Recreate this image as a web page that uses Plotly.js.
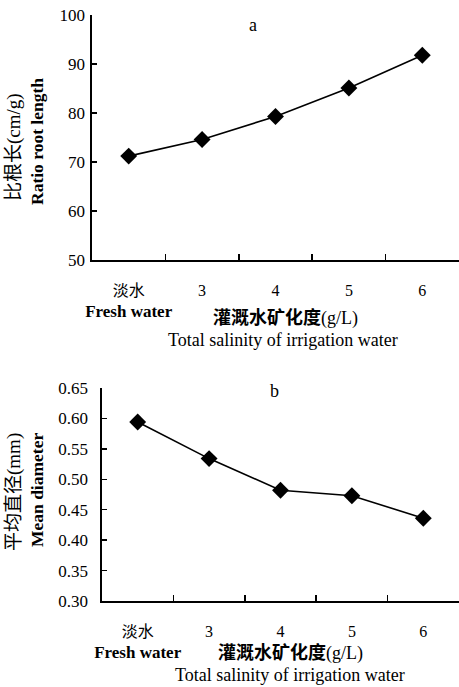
<!DOCTYPE html>
<html>
<head>
<meta charset="utf-8">
<script src="https://cdn.plot.ly/plotly-3.0.1.min.js"></script>
<style>html,body{margin:0;padding:0;background:#fff;}#chart{width:459px;height:687px;}</style>
</head>
<body>
<div id="chart"></div>
<script>
const categories = ['淡水', '3', '4', '5', '6'];
const tickLabels = ['淡水<br><b><span style="font-size:17px">Fresh water</span></b>', '3', '4', '5', '6'];
const ratioRootLength = [71.2, 74.6, 79.3, 85.1, 91.8];
const meanDiameter = [0.594, 0.534, 0.482, 0.473, 0.436];

const FONT = 'Liberation Serif, "Noto Sans CJK SC", serif';

const lineStyle = {color: '#000', width: 1.6};
const markerStyle = {symbol: 'diamond', size: 13, color: '#000'};

const traces = [
  {x: categories, y: ratioRootLength, type: 'scatter', mode: 'lines+markers',
   line: lineStyle, marker: markerStyle, xaxis: 'x', yaxis: 'y', hoverinfo: 'skip', cliponaxis: false},
  {x: categories, y: meanDiameter, type: 'scatter', mode: 'lines+markers',
   line: lineStyle, marker: markerStyle, xaxis: 'x2', yaxis: 'y2', hoverinfo: 'skip', cliponaxis: false}
];

const xCommon = {
  type: 'category', range: [-0.5, 4.5], tickson: 'boundaries',
  ticks: 'inside', ticklen: 6, tickwidth: 1.5, tickcolor: '#000',
  showline: true, linecolor: '#000', linewidth: 1.6, showgrid: false, zeroline: false,
  tickmode: 'array', tickvals: categories, ticktext: tickLabels, tickangle: 0,
  tickfont: {family: FONT, size: 16, color: '#000'}, ticklabelstandoff: 15, fixedrange: true
};
const yCommon = {
  ticks: 'inside', ticklen: 5, tickwidth: 1.5, tickcolor: '#000',
  showline: true, linecolor: '#000', linewidth: 1.6, showgrid: false, zeroline: false,
  tickfont: {family: FONT, size: 17, color: '#000'}, fixedrange: true
};

function px2x(px) { return (px - 92) / 367; }
function px2y(py) { return (601 - py) / 586; }
function ann(text, px, py, opts) {
  return Object.assign({text: text, x: px2x(px), y: px2y(py), xref: 'paper', yref: 'paper',
    xanchor: 'center', yanchor: 'middle', showarrow: false,
    font: {family: FONT, size: 15, color: '#000'}}, opts || {});
}

const layout = {
  width: 459, height: 687,
  margin: {l: 92, r: 0, t: 15, b: 86},
  paper_bgcolor: '#fff', plot_bgcolor: '#fff', showlegend: false,
  xaxis: Object.assign({}, xCommon, {domain: [0, 1], anchor: 'y'}),
  yaxis: Object.assign({}, yCommon, {domain: [0.5819, 1], range: [50, 100], dtick: 10, anchor: 'x', ticklabelstandoff: 2}),
  xaxis2: Object.assign({}, xCommon, {domain: [0.0272, 1], anchor: 'y2'}),
  yaxis2: Object.assign({}, yCommon, {domain: [0, 0.3635], range: [0.30, 0.65], dtick: 0.05, tickformat: '.2f', anchor: 'x2', ticklabelstandoff: 9}),
  annotations: [
    ann('a', 253, 25, {font: {family: FONT, size: 18, color: '#000'}}),
    ann('b', 274, 391, {font: {family: FONT, size: 18, color: '#000'}}),
    ann('<b>灌溉水矿化度</b>(g/L)', 285, 318, {font: {family: FONT, size: 18, color: '#000'}}),
    ann('Total salinity of irrigation water', 283, 340, {font: {family: FONT, size: 18, color: '#000'}}),
    ann('<b>灌溉水矿化度</b>(g/L)', 290, 653, {font: {family: FONT, size: 18, color: '#000'}}),
    ann('Total salinity of irrigation water', 290, 675, {font: {family: FONT, size: 18, color: '#000'}}),
    ann('比根长(cm/g)', 14, 147, {textangle: -90, font: {family: FONT, size: 19, color: '#000'}}),
    ann('<b>Ratio root length</b>', 37, 142, {textangle: -90, font: {family: FONT, size: 17.5, color: '#000'}}),
    ann('平均直径(mm)', 14, 492, {textangle: -90, font: {family: FONT, size: 19, color: '#000'}}),
    ann('<b>Mean diameter</b>', 37, 490, {textangle: -90, font: {family: FONT, size: 17.5, color: '#000'}})
  ]
};

Plotly.newPlot('chart', traces, layout, {displayModeBar: false, staticPlot: true});
</script>
</body>
</html>
